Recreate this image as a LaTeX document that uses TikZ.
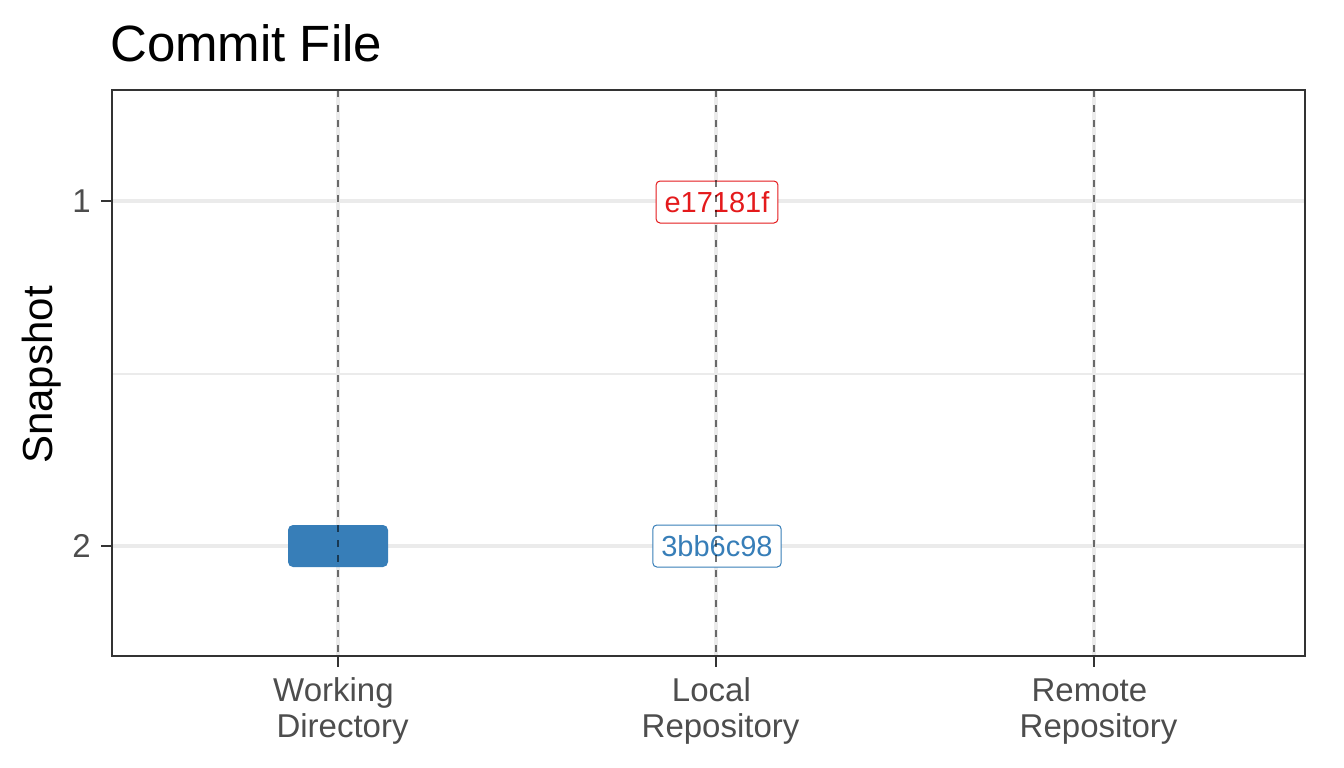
\documentclass[tikz,border=0pt]{standalone}
\usepackage{fontspec}
\setmainfont{Liberation Sans}
\usepackage{tikz}
\usetikzlibrary{positioning}

\definecolor{setblue}{HTML}{377EB8}
\definecolor{setred}{HTML}{E41A1C}
\definecolor{gridgray}{HTML}{EBEBEB}
\definecolor{framegray}{HTML}{333333}
\definecolor{ticktext}{HTML}{4D4D4D}

\tikzset{
  hashbox/.style={draw=#1, text=#1, fill=white, rounded corners=4pt, line width=1pt,
    inner xsep=8.5pt, inner ysep=0pt, minimum height=42pt,
    font=\fontsize{29}{34}\selectfont},
  ticklabel/.style={text=ticktext, inner sep=0pt, font=\fontsize{33}{36}\selectfont},
  collabel/.style={ticklabel, align=center, anchor=north},
  guide/.style={black, opacity=0.55, line width=2pt, dash pattern=on 7pt off 8pt}
}

\begin{document}
\begin{tikzpicture}[x=1pt,y=-1pt]
      \useasboundingbox (0,0) rectangle (1344,768);
      % panel grid
      \draw[gridgray, line width=2pt] (112,373.5) -- (1305,373.5);
      \foreach \gy in {201,546}
        \draw[gridgray, line width=4pt] (112,\gy) -- (1305,\gy);
      \foreach \gx in {338,716,1094}
        \draw[gridgray, line width=4pt] (\gx,90) -- (\gx,656);
      % data
      \node[fill=setblue, rounded corners=5pt, minimum width=100pt, minimum height=42pt,
        inner sep=0pt] (wd2) at (338,546) {};
      \node[hashbox=setred] (lr1) at (717,202) {e17181f};
      \node[hashbox=setblue] (lr2) at (717,546) {3bb6c98};
      % column guides
      \foreach \gx in {338,716,1094}
        \draw[guide] (\gx,90) -- (\gx,656);
      % frame and ticks
      \draw[framegray, line width=2pt] (112,90) rectangle (1305,656);
      \foreach \gx in {338,716,1094}
        \draw[framegray, line width=2pt] (\gx,656) -- (\gx,667);
      \foreach \gy in {201,546}
        \draw[framegray, line width=2pt] (101,\gy) -- (112,\gy);
      % axis text
      \node[ticklabel, anchor=east] (y1) at (91,201) {1};
      \node[ticklabel, anchor=east] (y2) at (91,546) {2};
      \node[collabel] (xwd) at (338,677) {Working\ \mbox{}\vphantom{k}\\\mbox{}\ Directory};
      \node[collabel] (xlr) at (716,677) {Local\ \mbox{}\vphantom{k}\\\mbox{}\ Repository};
      \node[collabel] (xrr) at (1094,677) {Remote\ \mbox{}\vphantom{k}\\\mbox{}\ Repository};
      \node[rotate=90, inner sep=0pt, font=\fontsize{42}{46}\selectfont] (ytitle) at (42,375) {Snapshot};
      \node[anchor=base west, inner sep=0pt, font=\fontsize{51}{56}\selectfont] (title) at (110,62) {Commit File};
\end{tikzpicture}
\end{document}
